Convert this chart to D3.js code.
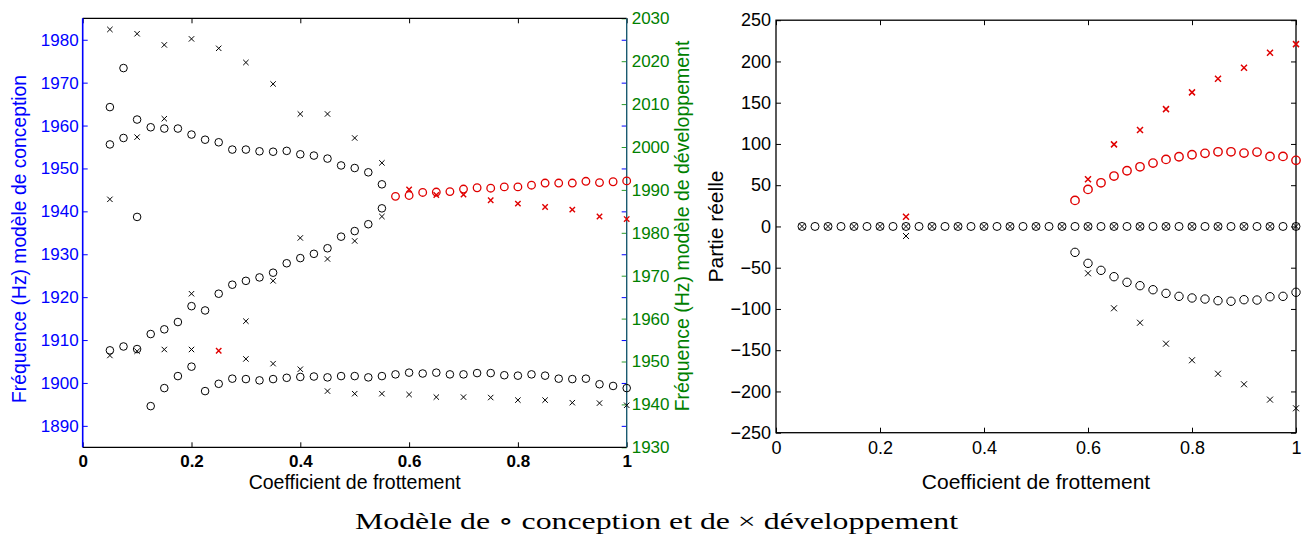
<!DOCTYPE html>
<html><head><meta charset="utf-8">
<script src="https://cdn.jsdelivr.net/npm/d3@7"></script>
<style>
body{margin:0;background:#fff;}
svg text{font-family:"Liberation Sans",Arial,Helvetica,sans-serif;}
</style>
</head><body>
<svg id="chart" width="1302" height="537"></svg>
<script>
// ---------- DATA ----------
const xConception = [0.05,0.075,0.1,0.125,0.15,0.175,0.2,0.225,0.25,0.275,0.3,0.325,0.35,0.375,0.4,0.425,0.45,0.475,0.5,0.525,0.55,
  0.575,0.6,0.625,0.65,0.675,0.7,0.725,0.75,0.775,0.8,0.825,0.85,0.875,0.9,0.925,0.95,0.975,1.0];
const xDevelop = [0.05,0.1,0.15,0.2,0.25,0.3,0.35,0.4,0.45,0.5,0.55,0.6,0.65,0.7,0.75,0.8,0.85,0.9,0.95,1.0];

// conception model frequencies (Hz, left axis)
const concTop = [1964.3,1973.4,1961.4,1959.6,1959.3,1959.3,1957.9,1956.7,1956.1,1954.4,1954.4,1954.0,1953.9,1954.1,1953.3,1953.0,1952.3,1950.7,1950.1,1949.1,1946.3,
  null,null,null,null,null,null,null,null,null,null,null,null,null,null,null,null,null,null];
const concMid = [1955.6,1957.1,1938.7,1911.4,1912.5,1914.2,1917.9,1916.9,1920.8,1922.9,1923.8,1924.6,1925.7,1927.9,1929.1,1930.1,1931.4,1934.1,1935.4,1937.0,1940.7,
  null,null,null,null,null,null,null,null,null,null,null,null,null,null,null,null,null,null];
const concBot = [1907.6,1908.5,1907.9,1894.6,1898.8,1901.6,1903.8,1898.1,1899.8,1901.0,1900.9,1900.6,1900.9,1901.2,1901.4,1901.5,1901.3,1901.6,1901.6,1901.3,1901.6,
  1902.0,1902.4,1902.2,1902.4,1902.0,1902.0,1902.3,1902.3,1901.8,1901.7,1902.0,1901.7,1901.0,1900.9,1901.0,1899.7,1899.3,1898.8];
const concRed = [null,null,null,null,null,null,null,null,null,null,null,null,null,null,null,null,null,null,null,null,null,
  1943.5,1943.7,1944.4,1944.5,1944.6,1945.2,1945.5,1945.4,1945.7,1945.7,1946.1,1946.6,1946.6,1946.6,1947.0,1946.7,1946.9,1947.1];

// development model frequencies (Hz, right axis)
const devTop = [2027.4,2026.4,2023.8,2025.2,2023.0,2019.7,2014.7,2007.7,2007.7,2002.1,1996.3,null,null,null,null,null,null,null,null,null];
const devMid = [1987.8,2002.3,2006.6,1965.8,null,1959.4,1968.8,1978.8,1973.9,1978.1,1983.8,null,null,null,null,null,null,null,null,null];
const devBot = [1951.4,1952.4,1952.8,1952.8,null,1950.6,1949.5,1948.2,1943.1,1942.5,1942.5,1942.3,1941.7,1941.7,1941.6,1941.0,1941.0,1940.4,1940.3,1939.8];
const devRed = [null,null,null,null,1952.5,null,null,null,null,null,null,1990.1,1988.8,1988.9,1987.6,1986.8,1986.0,1985.4,1983.8,1983.2];

// real parts
const reConcZero = [0,0,0,0,0,0,0,0,0,0,0,0,0,0,0,0,0,0,0,0,0,0,0,0,0,0,0,0,0,0,0,0,0,0,0,0,0,0,0];
const reConcPos = [null,null,null,null,null,null,null,null,null,null,null,null,null,null,null,null,null,null,null,null,null,
  31.6,44.9,52.9,61.1,67.5,72.3,76.8,81.3,84.5,86.9,88.6,90.5,90.5,88.9,90.1,84.9,84.9,80.1];
const reConcNeg = [null,null,null,null,null,null,null,null,null,null,null,null,null,null,null,null,null,null,null,null,null,
  -31.4,-44.7,-53.2,-60.9,-67.7,-71.8,-76.7,-81.1,-84.7,-86.7,-88.0,-90.0,-90.7,-88.8,-89.2,-85.2,-84.7,-79.8];
const reDevZero = [0,0,0,0,0,0,0,0,0,0,0,0,0,0,0,0,0,0,0,0];
const reDevPos = [null,null,null,null,11.8,null,null,null,null,null,null,57.1,99.5,116.8,142.2,162.5,179.0,192.3,210.5,221.0];
const reDevNeg = [null,null,null,null,-11.6,null,null,null,null,null,null,-56.8,-99.2,-116.7,-142.1,-162.2,-178.5,-191.3,-209.9,-220.4];

const xTicks = [0,0.2,0.4,0.6,0.8,1];
const leftTicks = [1890,1900,1910,1920,1930,1940,1950,1960,1970,1980];
const rightTicks = [1930,1940,1950,1960,1970,1980,1990,2000,2010,2020,2030];
const reTicks = [-250,-200,-150,-100,-50,0,50,100,150,200,250];

const xLabel = "Coefficient de frottement";
const yLabelLeft = "Fréquence (Hz) modèle de conception";
const yLabelRight = "Fréquence (Hz) modèle de développement";
const yLabelRe = "Partie réelle";
const title = "Modèle de ∘ conception et de × développement";

// ---------- STYLE ----------
const BLUE = "#0000ff", GREEN = "#008000", RED = "#e00000", BLACK = "#000";
const svg = d3.select("#chart");
const fmt = d3.format("~g");

function circles(g, xs, ys, sx, sy, r, color, sw){
  const pts = xs.map((x,i)=>[x,ys[i]]).filter(d=>d[1]!==null);
  g.append("g").selectAll("circle").data(pts).join("circle")
    .attr("cx",d=>sx(d[0])).attr("cy",d=>sy(d[1])).attr("r",r)
    .attr("fill","none").attr("stroke",color).attr("stroke-width",sw);
}
function crosses(g, xs, ys, sx, sy, h, color, sw){
  const pts = xs.map((x,i)=>[x,ys[i]]).filter(d=>d[1]!==null);
  g.append("g").selectAll("path").data(pts).join("path")
    .attr("d",d=>{const x=sx(d[0]), y=sy(d[1]);
      return `M${x-h},${y-h}L${x+h},${y+h}M${x-h},${y+h}L${x+h},${y-h}`;})
    .attr("fill","none").attr("stroke",color).attr("stroke-width",sw);
}
function styleAxis(g, color, fs, weight){
  g.select(".domain").remove();
  g.selectAll("line").attr("stroke",color);
  g.selectAll("text").attr("fill",color).attr("font-size",fs).attr("font-weight",weight||"normal")
    .attr("font-family",'"Liberation Sans",Arial,sans-serif');
}

// ---------- LEFT PLOT ----------
const L = {x0:82.7, x1:626.7, y0:18.3, y1:447.3};
const xL = d3.scaleLinear().domain([0,1]).range([L.x0,L.x1]);
const yL = d3.scaleLinear().domain([1885,1985]).range([L.y1,L.y0]);
const yR = d3.scaleLinear().domain([1930,2030]).range([L.y1,L.y0]);
const gl = svg.append("g");

const gxb = gl.append("g").attr("transform",`translate(0,${L.y1})`)
  .call(d3.axisBottom(xL).tickValues(xTicks).tickFormat(fmt).tickSize(-5).tickPadding(8));
styleAxis(gxb, BLACK, 17, "bold");
const gxt = gl.append("g").attr("transform",`translate(0,${L.y0})`)
  .call(d3.axisTop(xL).tickValues(xTicks).tickFormat("").tickSize(-5));
styleAxis(gxt, BLACK, 17);
const gyl = gl.append("g").attr("transform",`translate(${L.x0},0)`)
  .call(d3.axisLeft(yL).tickValues(leftTicks).tickFormat(fmt).tickSize(-5).tickPadding(4));
styleAxis(gyl, BLUE, 17);
const gylr = gl.append("g").attr("transform",`translate(${L.x1},0)`)
  .call(d3.axisRight(yL).tickValues(leftTicks).tickFormat("").tickSize(-5));
styleAxis(gylr, BLUE, 17);
const gyr = gl.append("g").attr("transform",`translate(${L.x1},0)`)
  .call(d3.axisRight(yR).tickValues(rightTicks).tickFormat(fmt).tickSize(-5).tickPadding(5));
styleAxis(gyr, GREEN, 17);
gyr.selectAll("line").attr("stroke","#2a9a2a");

gl.append("line").attr("x1",L.x0).attr("x2",L.x1).attr("y1",L.y0).attr("y2",L.y0).attr("stroke",BLACK).attr("stroke-width",1.2);
gl.append("line").attr("x1",L.x0).attr("x2",L.x1).attr("y1",L.y1).attr("y2",L.y1).attr("stroke",BLACK).attr("stroke-width",1.2);
gl.append("line").attr("x1",L.x0).attr("x2",L.x0).attr("y1",L.y0).attr("y2",L.y1).attr("stroke",BLUE).attr("stroke-width",1.6);
gl.append("line").attr("x1",L.x1).attr("x2",L.x1).attr("y1",L.y0).attr("y2",L.y1).attr("stroke","#1a5a70").attr("stroke-width",1.4);

circles(gl, xConception, concTop, xL, yL, 3.8, BLACK, 1);
circles(gl, xConception, concMid, xL, yL, 3.8, BLACK, 1);
circles(gl, xConception, concBot, xL, yL, 3.8, BLACK, 1);
circles(gl, xConception, concRed, xL, yL, 3.8, RED, 1.3);
crosses(gl, xDevelop, devTop, xL, yR, 2.7, BLACK, 1);
crosses(gl, xDevelop, devMid, xL, yR, 2.7, BLACK, 1);
crosses(gl, xDevelop, devBot, xL, yR, 2.7, BLACK, 1);
crosses(gl, xDevelop, devRed, xL, yR, 2.7, RED, 1.4);

gl.append("text").attr("x",(L.x0+L.x1)/2).attr("y",488.5).attr("text-anchor","middle")
  .attr("font-size",19.5).attr("fill",BLACK).text(xLabel);
gl.append("text").attr("transform",`translate(26,239) rotate(-90)`).attr("text-anchor","middle")
  .attr("font-size",19.3).attr("fill",BLUE).text(yLabelLeft);
gl.append("text").attr("transform",`translate(${L.x1+62},226) rotate(-90)`).attr("text-anchor","middle")
  .attr("font-size",19.5).attr("fill",GREEN).text(yLabelRight);

// ---------- RIGHT PLOT ----------
const R = {x0:776, x1:1296, y0:20.2, y1:432.7};
const xRe = d3.scaleLinear().domain([0,1]).range([R.x0,R.x1]);
const yRe = d3.scaleLinear().domain([-250,250]).range([R.y1,R.y0]);
const gr = svg.append("g");

const rxb = gr.append("g").attr("transform",`translate(0,${R.y1})`)
  .call(d3.axisBottom(xRe).tickValues(xTicks).tickFormat(fmt).tickSize(-5).tickPadding(9));
styleAxis(rxb, BLACK, 18);
const rxt = gr.append("g").attr("transform",`translate(0,${R.y0})`)
  .call(d3.axisTop(xRe).tickValues(xTicks).tickFormat("").tickSize(-5));
styleAxis(rxt, BLACK, 18);
const ryl = gr.append("g").attr("transform",`translate(${R.x0},0)`)
  .call(d3.axisLeft(yRe).tickValues(reTicks).tickFormat(fmt).tickSize(-5).tickPadding(5));
styleAxis(ryl, BLACK, 18);
const ryr = gr.append("g").attr("transform",`translate(${R.x1},0)`)
  .call(d3.axisRight(yRe).tickValues(reTicks).tickFormat("").tickSize(-5));
styleAxis(ryr, BLACK, 18);
gr.append("rect").attr("x",R.x0).attr("y",R.y0).attr("width",R.x1-R.x0).attr("height",R.y1-R.y0)
  .attr("fill","none").attr("stroke",BLACK).attr("stroke-width",1.3);

circles(gr, xConception, reConcZero, xRe, yRe, 4, BLACK, 1);
circles(gr, xConception, reConcPos, xRe, yRe, 4.2, RED, 1.4);
circles(gr, xConception, reConcNeg, xRe, yRe, 4.2, BLACK, 1);
crosses(gr, xDevelop, reDevZero, xRe, yRe, 3, BLACK, 1);
crosses(gr, xDevelop, reDevPos, xRe, yRe, 3, RED, 1.5);
crosses(gr, xDevelop, reDevNeg, xRe, yRe, 3, BLACK, 1);

gr.append("text").attr("x",(R.x0+R.x1)/2).attr("y",488.5).attr("text-anchor","middle")
  .attr("font-size",21).attr("fill",BLACK).text(xLabel);
gr.append("text").attr("transform",`translate(723,226.5) rotate(-90)`).attr("text-anchor","middle")
  .attr("font-size",21).attr("fill",BLACK).text(yLabelRe);

// ---------- TITLE ----------
svg.append("text").attr("x",656.5).attr("y",529).attr("text-anchor","middle")
  .attr("font-size",24).attr("textLength",603).attr("lengthAdjust","spacingAndGlyphs")
  .style("font-family",'"Liberation Serif","DejaVu Serif",serif')
  .attr("fill",BLACK).text(title);
</script>
</body></html>
